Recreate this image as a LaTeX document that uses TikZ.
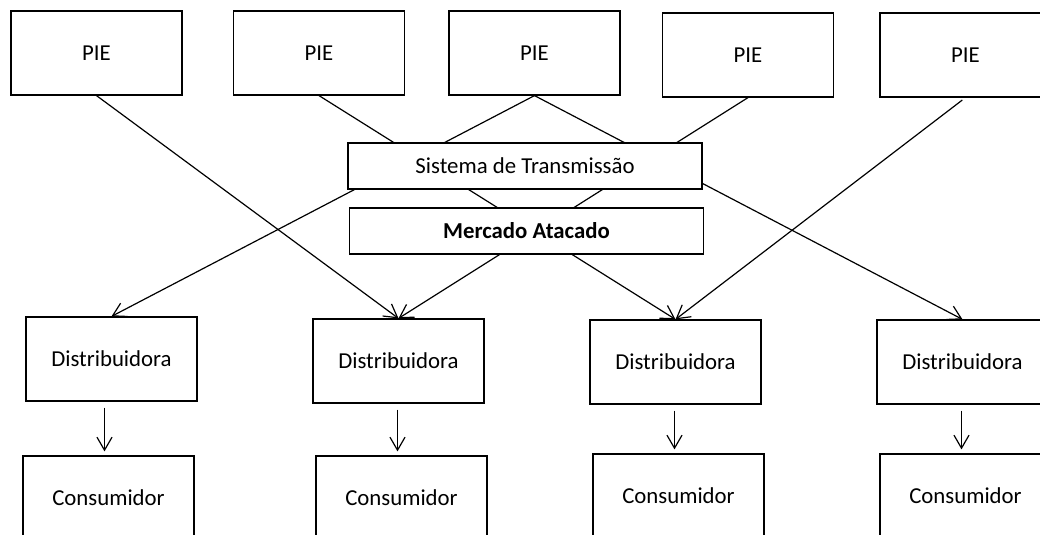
\documentclass[tikz,border=0pt]{standalone}
\usepackage{fontspec}
\setmainfont{Carlito}
\usetikzlibrary{arrows.meta}
\begin{document}
\begin{tikzpicture}[x=0.5pt, y=-0.5pt, line width=0.6pt,
  box/.style={draw, minimum width=85.5pt, minimum height=42pt, inner sep=0pt},
  bar/.style={draw, fill=white, minimum width=177pt, minimum height=23pt, inner sep=0pt},
  flow/.style={-{Straight Barb[length=6.5pt,width=7.5pt]}}]
  \useasboundingbox (0,0) rectangle (1040,535);
  \clip (0,0) rectangle (1040,535);
  \fontsize{11.4}{13}\selectfont
  % produtores
  \node[box] (pie1) at (96.5,53) {PIE};
  \node[box] (pie2) at (319,53) {PIE};
  \node[box] (pie3) at (534.5,53) {PIE};
  \node[box] (pie4) at (748,55) {PIE};
  \node[box] (pie5) at (965.5,55) {PIE};
  % distribuidoras e consumidores
  \node[box] (dist1) at (111.5,359) {Distribuidora};
  \node[box] (dist2) at (398.5,361) {Distribuidora};
  \node[box] (dist3) at (675.5,362) {Distribuidora};
  \node[box] (dist4) at (962.5,362) {Distribuidora};
  \node[box] (cons1) at (108.5,498) {Consumidor};
  \node[box] (cons2) at (401.5,498) {Consumidor};
  \node[box] (cons3) at (678.5,496) {Consumidor};
  \node[box] (cons4) at (965.5,496) {Consumidor};
  % fluxos
  \draw[flow] (pie1.south) -- (dist2.north);
  \draw[flow] (pie2.south) -- (dist3.north);
  \draw[flow] (pie3.south) -- (dist1.north);
  \draw[flow] (pie3.south) -- (dist4.north);
  \draw[flow] (pie4.south) -- (dist2.north);
  \draw[flow, shorten <=2pt] (pie5.south) -- (dist3.north);
  \foreach \i in {1,...,4}
    \draw[flow, shorten <=3pt, shorten >=2pt]
      ([xshift=-2pt]cons\i.north |- dist\i.south) -- ([xshift=-2pt]cons\i.north);
  % mercado
  \node[bar] (trans) at (525,166) {Sistema de Transmissão};
  \node[bar] (merc) at (526.5,231) {\bfseries Mercado Atacado};
\end{tikzpicture}
\end{document}
